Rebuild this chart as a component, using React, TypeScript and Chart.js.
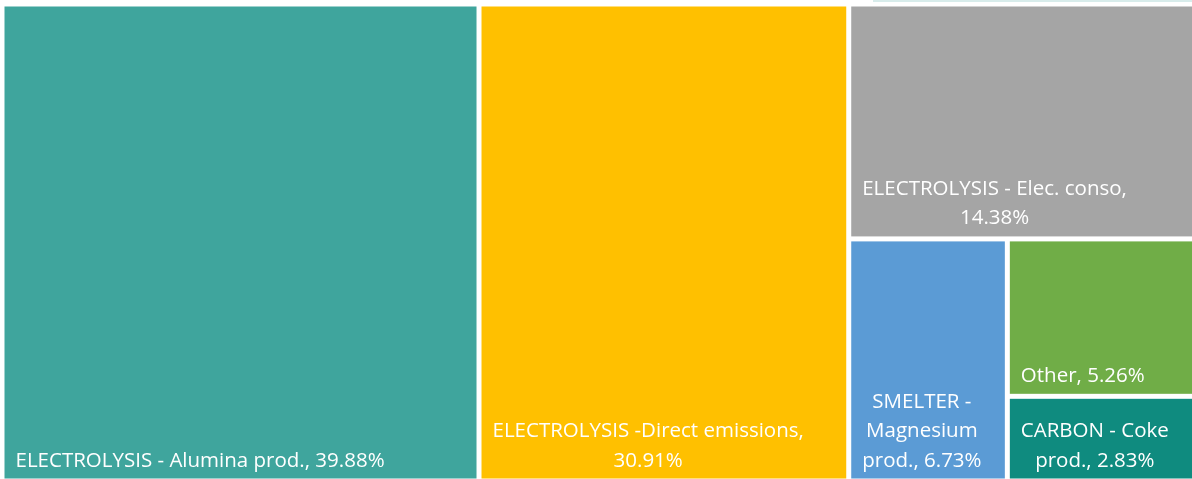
import React, { useEffect, useRef } from 'react';
import { Chart, registerables } from 'chart.js';

Chart.register(...registerables);

const categories = [
  'ELECTROLYSIS - Alumina prod.',
  'ELECTROLYSIS -Direct emissions',
  'ELECTROLYSIS - Elec. conso',
  'SMELTER - Magnesium prod.',
  'Other',
  'CARBON - Coke prod.',
];
const shares = [39.88, 30.91, 14.38, 6.73, 5.26, 2.83];
const tileColors = ['#3FA59D', '#FFC000', '#A5A5A5', '#5B9BD5', '#70AD47', '#0F8B7F'];

type Box = { x: number; y: number; w: number; h: number };

function squarify(values: number[], box: Box, kx: number, ky: number): Box[] {
  const out: Box[] = [];
  let rest = values.slice();
  let b = { ...box };
  let total = rest.reduce((a, c) => a + c, 0);
  while (rest.length) {
    const pw = b.w * kx;
    const ph = b.h * ky;
    const short = Math.min(pw, ph);
    const scale = (pw * ph) / total;
    const worst = (r: number[]) => {
      const s = r.reduce((a, c) => a + c, 0) * scale;
      const mx = Math.max(...r) * scale;
      const mn = Math.min(...r) * scale;
      return Math.max((short * short * mx) / (s * s), (s * s) / (short * short * mn));
    };
    const row = [rest[0]];
    let i = 1;
    while (i < rest.length && worst([...row, rest[i]]) <= worst(row)) {
      row.push(rest[i]);
      i++;
    }
    const rowSum = row.reduce((a, c) => a + c, 0);
    if (pw >= ph) {
      const colW = (b.w * rowSum) / total;
      let yy = b.y;
      for (const v of row) {
        const hh = (b.h * v) / rowSum;
        out.push({ x: b.x, y: yy, w: colW, h: hh });
        yy += hh;
      }
      b = { x: b.x + colW, y: b.y, w: b.w - colW, h: b.h };
    } else {
      const rowH = (b.h * rowSum) / total;
      let xx = b.x;
      for (const v of row) {
        const ww = (b.w * v) / rowSum;
        out.push({ x: xx, y: b.y, w: ww, h: rowH });
        xx += ww;
      }
      b = { x: b.x, y: b.y + rowH, w: b.w, h: b.h - rowH };
    }
    rest = rest.slice(i);
    total -= rowSum;
  }
  return out;
}

const treemapPlugin = {
  id: 'treemapTiles',
  afterDatasetsDraw(chart: any) {
    const { ctx, chartArea, scales } = chart;
    const xs = scales.x;
    const ys = scales.y;
    const kx = chartArea.width / 100;
    const ky = chartArea.height / 100;
    const boxes = squarify(shares, { x: 0, y: 0, w: 100, h: 100 }, kx, ky);
    const gap = 2.5;
    const fontSize = 20.5;
    const lineH = 29.5;
    const padX = 11;
    const padBottom = 12;
    ctx.save();
    boxes.forEach((bx, i) => {
      const x0 = xs.getPixelForValue(bx.x) + gap;
      const x1 = xs.getPixelForValue(bx.x + bx.w) - gap;
      const y0 = ys.getPixelForValue(bx.y) + gap;
      const y1 = ys.getPixelForValue(bx.y + bx.h) - gap;
      ctx.fillStyle = tileColors[i];
      ctx.fillRect(x0, y0, x1 - x0, y1 - y0);

      ctx.font = `${fontSize}px "Open Sans"`;
      const label = `${categories[i]}, ${shares[i].toFixed(2)}%`;
      const words = label.split(' ');
      const maxW = x1 - x0 - 2 * padX;
      const lines: string[] = [];
      let cur = '';
      for (const w of words) {
        const test = cur ? cur + ' ' + w : w;
        if (cur && ctx.measureText(test).width > maxW) {
          lines.push(cur);
          cur = w;
        } else {
          cur = test;
        }
      }
      if (cur) lines.push(cur);
      const widths = lines.map((l) => ctx.measureText(l).width);
      const blockW = Math.max(...widths);
      const left = x0 + padX;
      ctx.fillStyle = '#FFFFFF';
      ctx.textBaseline = 'alphabetic';
      ctx.textAlign = 'left';
      lines.forEach((l, li) => {
        const baseY = y1 - padBottom - (lines.length - 1 - li) * lineH;
        ctx.fillText(l, left + (blockW - widths[li]) / 2, baseY);
      });
    });
    ctx.restore();
  },
};

export default function App() {
  const ref = useRef<HTMLCanvasElement | null>(null);
  useEffect(() => {
    if (!ref.current) return;
    const chart = new Chart(ref.current, {
      type: 'scatter',
      data: { datasets: [{ data: [], pointRadius: 0 }] },
      options: {
        animation: false,
        responsive: false,
        maintainAspectRatio: false,
        layout: { padding: 0 },
        plugins: { legend: { display: false }, tooltip: { enabled: false } },
        scales: {
          x: { type: 'linear', min: 0, max: 100, display: false },
          y: { type: 'linear', min: 0, max: 100, reverse: true, display: false },
        },
      },
      plugins: [treemapPlugin],
    });
    return () => chart.destroy();
  }, []);
  return (
    <div style={{ position: 'fixed', left: 0, top: 0, width: 1192, height: 479, overflow: 'hidden', background: '#fff' }}>
      <div style={{ position: 'absolute', left: 873, top: 0, width: 319, height: 2, background: '#D8ECEB' }} />
      <canvas
        ref={ref}
        width={1196}
        height={477}
        style={{ position: 'absolute', left: 2, top: 4, width: 1196, height: 477 }}
      />
    </div>
  );
}
